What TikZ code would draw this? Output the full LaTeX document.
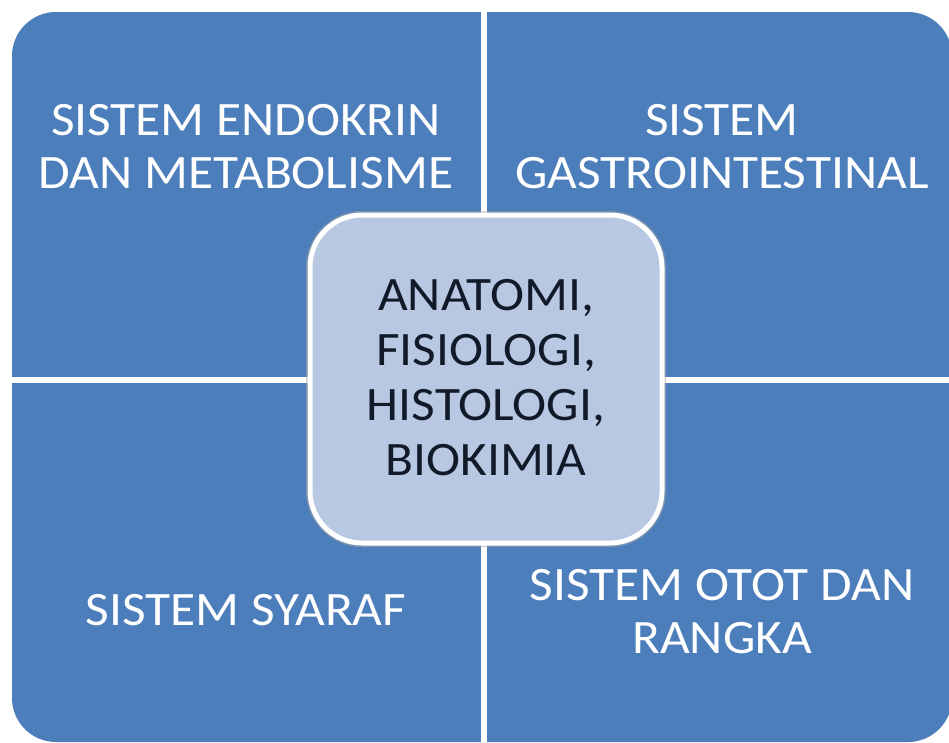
\documentclass[tikz,border=0pt]{standalone}
\usepackage{fontspec}
\setmainfont[FakeStretch=1.07]{Carlito}
\definecolor{quadblue}{HTML}{4D7EBC}
\definecolor{centerfill}{HTML}{B8C8E3}
\definecolor{centertext}{HTML}{111A28}
\begin{document}
\begin{tikzpicture}[x=1pt,y=-1pt,
  quadtext/.style={text=white,font=\fontsize{48}{53}\selectfont,align=center,inner sep=0pt,anchor=base},
  midtext/.style={text=centertext,font=\fontsize{48}{55}\selectfont,align=center,inner sep=0pt,anchor=base}]
\useasboundingbox (0,0) rectangle (949,742);
\fill[white] (0,0) rectangle (949,742);
% outer blue field
\fill[quadblue,rounded corners=44pt] (12,12) rectangle (952,742);
% white separators
\coordinate (vtop) at (484,0);
\coordinate (vbot) at (484,742);
\coordinate (hleft) at (0,380);
\coordinate (hright) at (949,380);
\draw[white,line width=6pt] (vtop) -- (vbot);
\draw[white,line width=6pt] (hleft) -- (hright);
% centre box
\draw[black!35,line width=8pt,opacity=0.5,rounded corners=52pt] (310,215) rectangle (662,543);
\draw[white,line width=5pt,fill=centerfill,rounded corners=52pt] (310,215) rectangle (662,543);
% texts
\node[quadtext] (tl) at (246,188) {SISTEM ENDOKRIN\\DAN METABOLISME};
\node[quadtext] (tr) at (722,188) {SISTEM\\GASTROINTESTINAL};
\node[quadtext] (bl) at (246,625) {SISTEM SYARAF};
\node[quadtext] (br) at (722,653) {SISTEM OTOT DAN\\RANGKA};
\node[midtext] (mid) at (486,475) {ANATOMI,\\FISIOLOGI,\\HISTOLOGI,\\BIOKIMIA};
\end{tikzpicture}
\end{document}
